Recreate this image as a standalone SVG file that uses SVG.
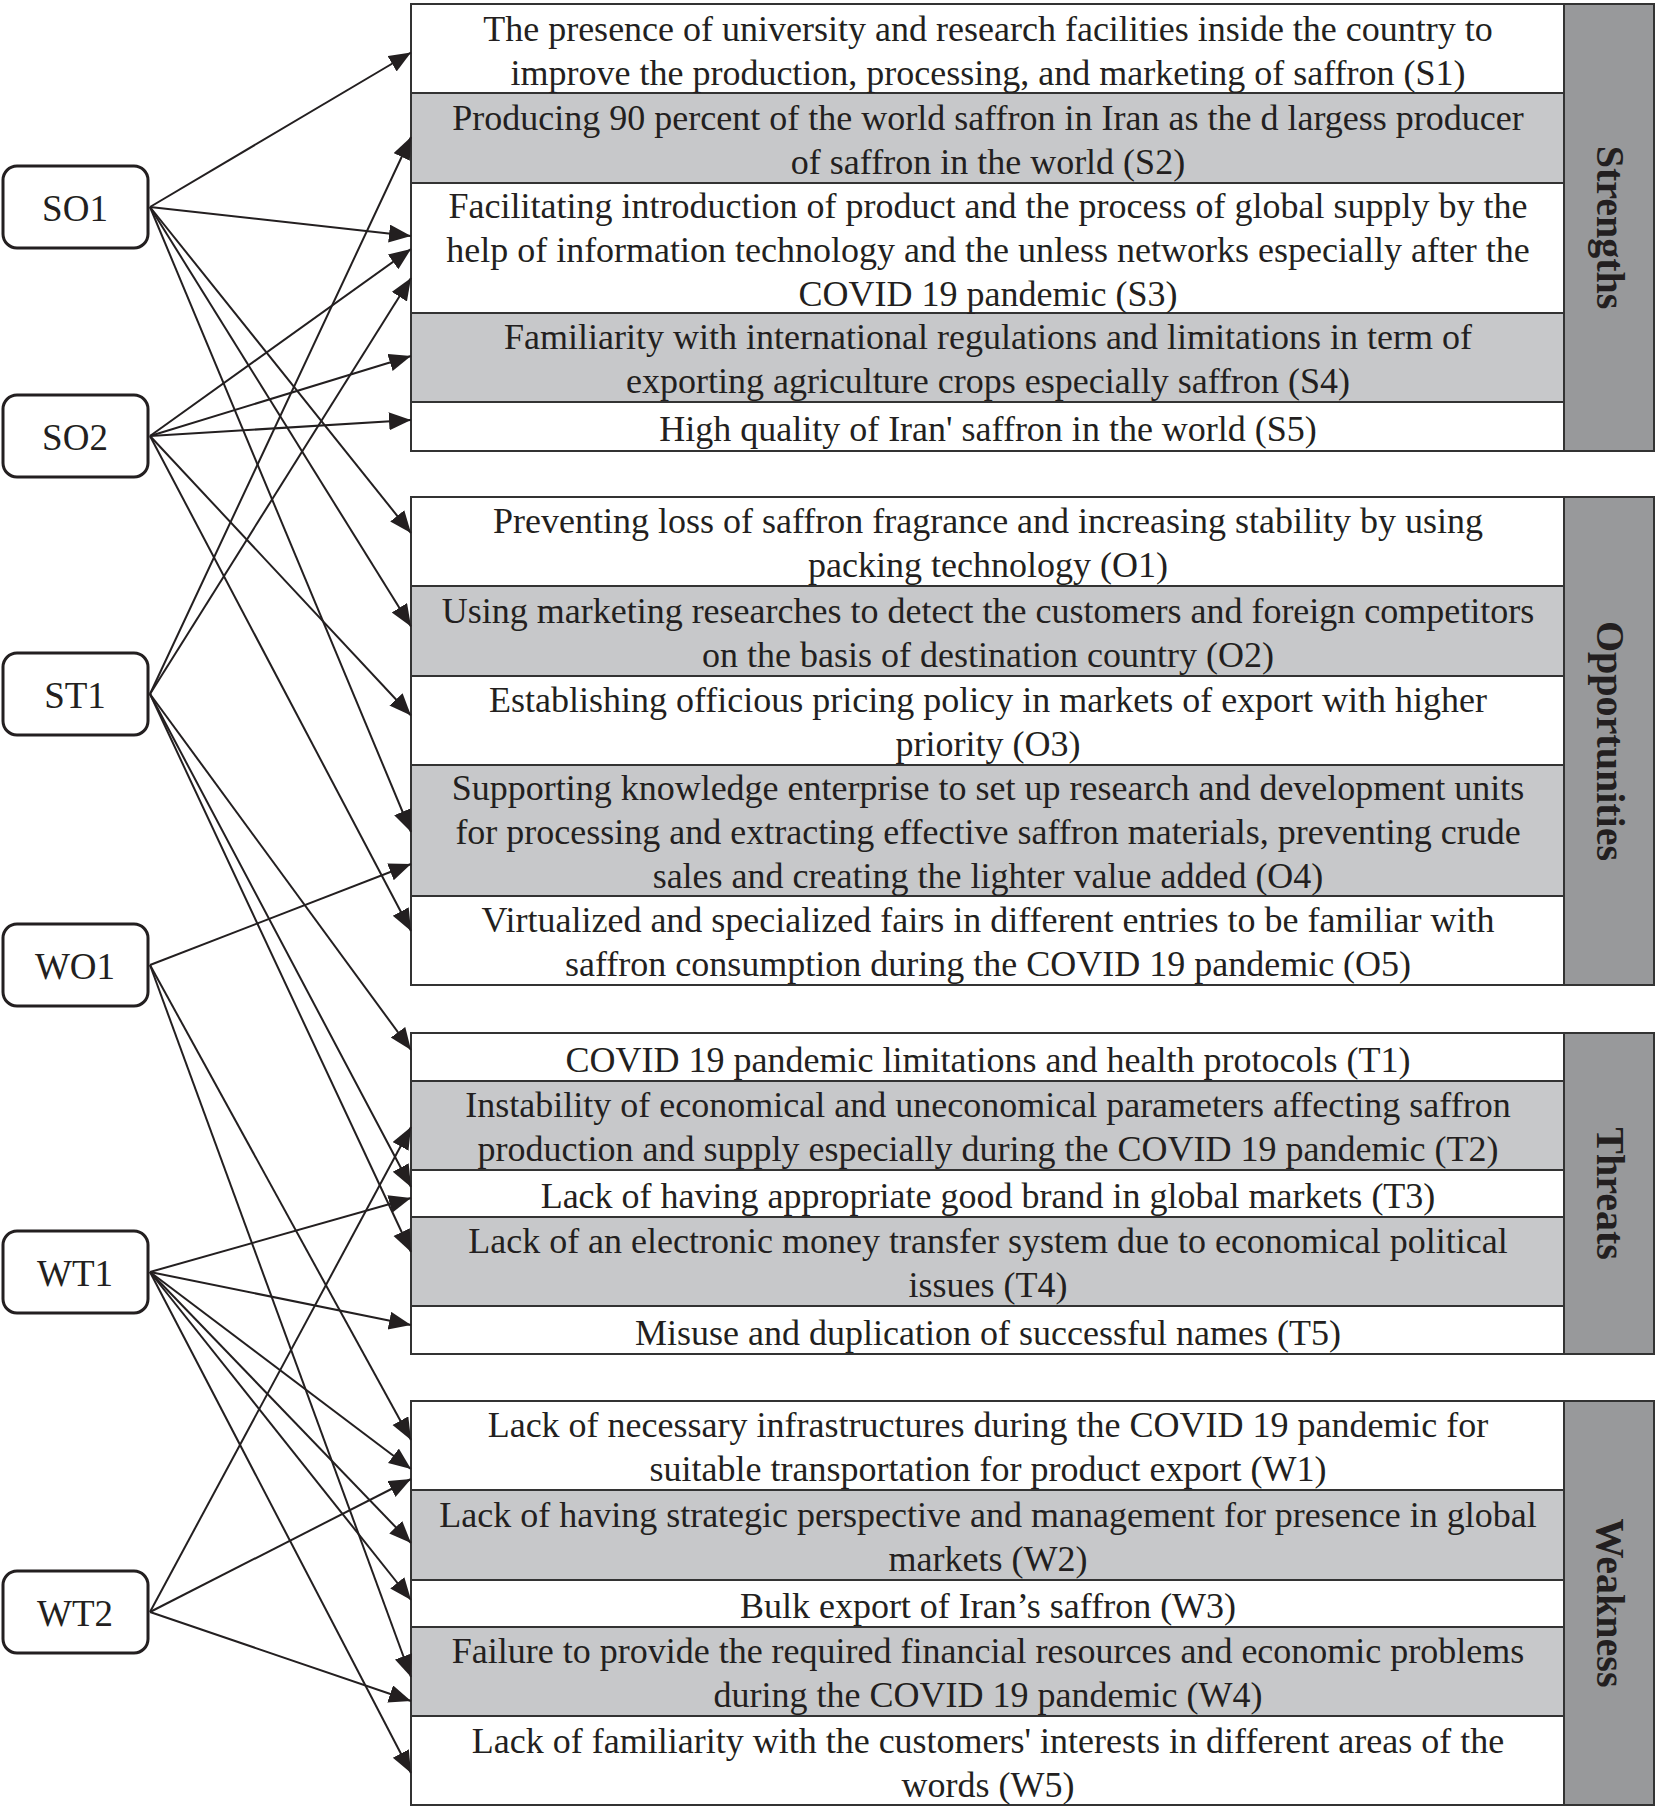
<svg xmlns="http://www.w3.org/2000/svg" width="1658" height="1808" viewBox="0 0 1658 1808">
<defs>
<style>
.bg{fill:#ffffff}
.row{fill:#ffffff;stroke:#333333;stroke-width:2}
.g{fill:#c7c8ca}
.lab{fill:#98999b;stroke:#333333;stroke-width:2}
.t{font-family:"Liberation Serif","Times New Roman",serif;font-size:36px;fill:#231f20;text-anchor:middle}
.lt{font-family:"Liberation Serif","Times New Roman",serif;font-size:40px;font-weight:bold;fill:#231f20;text-anchor:middle}
.node rect{fill:#ffffff;stroke:#231f20;stroke-width:3}
.nt{font-family:"Liberation Serif","Times New Roman",serif;font-size:37px;fill:#231f20;text-anchor:middle}
.c line{stroke:#231f20;stroke-width:2;marker-end:url(#ah)}
</style>
<marker id="ah" markerUnits="userSpaceOnUse" markerWidth="24" markerHeight="20" refX="22" refY="9" orient="auto">
<path d="M0,0 L22,9 L0,18 z" fill="#231f20"/>
</marker>
</defs>
<rect class="bg" x="0" y="0" width="1658" height="1808"/>

<g id="strengths">
<rect class="row" x="411" y="4" width="1153" height="89"/>
<rect class="row g" x="411" y="93" width="1153" height="90"/>
<rect class="row" x="411" y="183" width="1153" height="130"/>
<rect class="row g" x="411" y="313" width="1153" height="89"/>
<rect class="row" x="411" y="402" width="1153" height="49"/>
<rect class="lab" x="1564" y="4" width="90" height="447"/>
<text class="t" x="988" y="40.5">The presence of university and research facilities inside the country to</text>
<text class="t" x="988" y="84.5">improve the production, processing, and marketing of saffron (S1)</text>
<text class="t" x="988" y="129.5">Producing 90 percent of the world saffron in Iran as the d largess producer</text>
<text class="t" x="988" y="173.5">of saffron in the world (S2)</text>
<text class="t" x="988" y="217.5">Facilitating introduction of product and the process of global supply by the</text>
<text class="t" x="988" y="261.5">help of information technology and the unless networks especially after the</text>
<text class="t" x="988" y="305.5">COVID 19 pandemic (S3)</text>
<text class="t" x="988" y="349">Familiarity with international regulations and limitations in term of</text>
<text class="t" x="988" y="393">exporting agriculture crops especially saffron (S4)</text>
<text class="t" x="988" y="440.5">High quality of Iran' saffron in the world (S5)</text>
<text class="lt" transform="translate(1597,227.5) rotate(90)" x="0" y="0">Strengths</text>
</g>

<g id="opportunities">
<rect class="row" x="411" y="497" width="1153" height="89"/>
<rect class="row g" x="411" y="586" width="1153" height="90"/>
<rect class="row" x="411" y="676" width="1153" height="89"/>
<rect class="row g" x="411" y="765" width="1153" height="131"/>
<rect class="row" x="411" y="896" width="1153" height="89"/>
<rect class="lab" x="1564" y="497" width="90" height="488"/>
<text class="t" x="988" y="533">Preventing loss of saffron fragrance and increasing stability by using</text>
<text class="t" x="988" y="577">packing technology (O1)</text>
<text class="t" x="988" y="622.5">Using marketing researches to detect the customers and foreign competitors</text>
<text class="t" x="988" y="666.5">on the basis of destination country (O2)</text>
<text class="t" x="988" y="712">Establishing officious pricing policy in markets of export with higher</text>
<text class="t" x="988" y="756">priority (O3)</text>
<text class="t" x="988" y="800">Supporting knowledge enterprise to set up research and development units</text>
<text class="t" x="988" y="844">for processing and extracting effective saffron materials, preventing crude</text>
<text class="t" x="988" y="888">sales and creating the lighter value added (O4)</text>
<text class="t" x="988" y="932">Virtualized and specialized fairs in different entries to be familiar with</text>
<text class="t" x="988" y="976">saffron consumption during the COVID 19 pandemic (O5)</text>
<text class="lt" transform="translate(1597,741) rotate(90)" x="0" y="0">Opportunities</text>
</g>

<g id="threats">
<rect class="row" x="411" y="1033" width="1153" height="48"/>
<rect class="row g" x="411" y="1081" width="1153" height="89"/>
<rect class="row" x="411" y="1170" width="1153" height="47"/>
<rect class="row g" x="411" y="1217" width="1153" height="89"/>
<rect class="row" x="411" y="1306" width="1153" height="48"/>
<rect class="lab" x="1564" y="1033" width="90" height="321"/>
<text class="t" x="988" y="1071.5">COVID 19 pandemic limitations and health protocols (T1)</text>
<text class="t" x="988" y="1117">Instability of economical and uneconomical parameters affecting saffron</text>
<text class="t" x="988" y="1161">production and supply especially during the COVID 19 pandemic (T2)</text>
<text class="t" x="988" y="1208">Lack of having appropriate good brand in global markets (T3)</text>
<text class="t" x="988" y="1253">Lack of an electronic money transfer system due to economical political</text>
<text class="t" x="988" y="1297">issues (T4)</text>
<text class="t" x="988" y="1344.5">Misuse and duplication of successful names (T5)</text>
<text class="lt" transform="translate(1597,1193.5) rotate(90)" x="0" y="0">Threats</text>
</g>

<g id="weakness">
<rect class="row" x="411" y="1401" width="1153" height="89"/>
<rect class="row g" x="411" y="1490" width="1153" height="90"/>
<rect class="row" x="411" y="1580" width="1153" height="47"/>
<rect class="row g" x="411" y="1627" width="1153" height="89"/>
<rect class="row" x="411" y="1716" width="1153" height="89"/>
<rect class="lab" x="1564" y="1401" width="90" height="404"/>
<text class="t" x="988" y="1437">Lack of necessary infrastructures during the COVID 19 pandemic for</text>
<text class="t" x="988" y="1481">suitable transportation for product export (W1)</text>
<text class="t" x="988" y="1526.5">Lack of having strategic perspective and management for presence in global</text>
<text class="t" x="988" y="1570.5">markets (W2)</text>
<text class="t" x="988" y="1618">Bulk export of Iran’s saffron (W3)</text>
<text class="t" x="988" y="1663">Failure to provide the required financial resources and economic problems</text>
<text class="t" x="988" y="1707">during the COVID 19 pandemic (W4)</text>
<text class="t" x="988" y="1752.5">Lack of familiarity with the customers' interests in different areas of the</text>
<text class="t" x="988" y="1796.5">words (W5)</text>
<text class="lt" transform="translate(1597,1603) rotate(90)" x="0" y="0">Weakness</text>
</g>

<g id="connectors" class="c">
<line x1="150" y1="207" x2="411" y2="52.5"/>
<line x1="150" y1="207" x2="411" y2="236"/>
<line x1="150" y1="207" x2="411" y2="533"/>
<line x1="150" y1="207" x2="411" y2="626.5"/>
<line x1="150" y1="207" x2="411" y2="832"/>
<line x1="150" y1="436" x2="411" y2="249"/>
<line x1="150" y1="436" x2="411" y2="356"/>
<line x1="150" y1="436" x2="411" y2="420"/>
<line x1="150" y1="436" x2="411" y2="715.5"/>
<line x1="150" y1="436" x2="411" y2="931"/>
<line x1="150" y1="694" x2="411" y2="137"/>
<line x1="150" y1="694" x2="411" y2="278"/>
<line x1="150" y1="694" x2="411" y2="1050"/>
<line x1="150" y1="694" x2="411" y2="1187"/>
<line x1="150" y1="694" x2="411" y2="1252"/>
<line x1="150" y1="965" x2="411" y2="864"/>
<line x1="150" y1="965" x2="411" y2="1440"/>
<line x1="150" y1="965" x2="411" y2="1677"/>
<line x1="150" y1="1272" x2="411" y2="1198"/>
<line x1="150" y1="1272" x2="411" y2="1325"/>
<line x1="150" y1="1272" x2="411" y2="1469"/>
<line x1="150" y1="1272" x2="411" y2="1543"/>
<line x1="150" y1="1272" x2="411" y2="1600"/>
<line x1="150" y1="1272" x2="411" y2="1773"/>
<line x1="150" y1="1612" x2="411" y2="1127"/>
<line x1="150" y1="1612" x2="411" y2="1479"/>
<line x1="150" y1="1612" x2="411" y2="1701"/>
</g>

<g id="SO1" class="node"><rect x="3" y="166" width="145" height="82" rx="14"/><text class="nt" x="75" y="221">SO1</text></g>
<g id="SO2" class="node"><rect x="3" y="395" width="145" height="82" rx="14"/><text class="nt" x="75" y="450">SO2</text></g>
<g id="ST1" class="node"><rect x="3" y="653" width="145" height="82" rx="14"/><text class="nt" x="75" y="708">ST1</text></g>
<g id="WO1" class="node"><rect x="3" y="924" width="145" height="82" rx="14"/><text class="nt" x="75" y="979">WO1</text></g>
<g id="WT1" class="node"><rect x="3" y="1231" width="145" height="82" rx="14"/><text class="nt" x="75" y="1286">WT1</text></g>
<g id="WT2" class="node"><rect x="3" y="1571" width="145" height="82" rx="14"/><text class="nt" x="75" y="1626">WT2</text></g>
</svg>
